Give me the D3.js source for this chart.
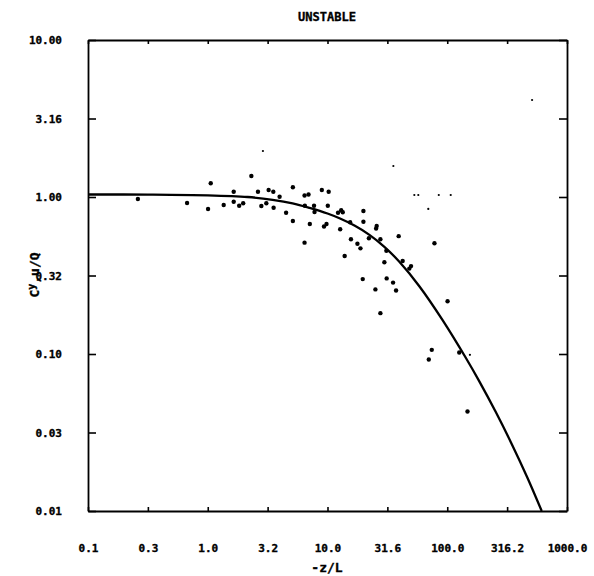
<!DOCTYPE html>
<html>
<head>
<meta charset="utf-8">
<script src="https://cdn.jsdelivr.net/npm/d3@7"></script>
<style>
  html, body { margin: 0; padding: 0; background: #fff; }
  svg text { font-family: "DejaVu Sans Mono", "Liberation Mono", monospace; font-weight: bold; fill: #000; stroke: #000; stroke-width: 0.35px; }
</style>
</head>
<body>
<svg id="chart" width="594" height="576"></svg>
<script>
// Normalized crosswind-integrated concentration vs. stability, unstable cases

const titleText = "UNSTABLE";
const xLabelText = "-z/L";

// Tick positions and their printed labels
const xTicks = [0.1, 0.3162, 1, 3.162, 10, 31.62, 100, 316.2, 1000];
const xTickLabels = ["0.1", "0.3", "1.0", "3.2", "10.0", "31.6", "100.0", "316.2", "1000.0"];
const yTicks = [0.01, 0.03162, 0.1, 0.3162, 1, 3.162, 10];
const yTickLabels = ["0.01", "0.03", "0.10", "0.32", "1.00", "3.16", "10.00"];

// Observations (-z/L, Cy u/Q)
const obsX = [0.261, 0.672, 1.006, 1.059, 1.359, 1.647, 1.647, 1.83, 1.976, 2.313,
  2.626, 2.803, 3.085, 3.224, 3.528, 3.548, 3.981, 4.511, 5.138, 5.138,
  6.433, 6.945, 6.47, 7.12, 7.718, 7.792, 6.433, 8.966, 10.23, 10.06,
  9.35, 9.81, 12.24, 13.01, 13.41, 12.76, 15.46, 19.95, 19.95, 25.75,
  25.46, 15.7, 17.78, 18.84, 13.91, 22.17, 27.65, 39.29, 31.02, 29.85,
  42.42, 49.83, 48.23, 78.2, 19.69, 31.2, 35.28, 25.12, 37.37, 27.65,
  100.6, 74.27, 70.12, 125.9, 147.6];
const obsY = [0.971, 0.916, 0.839, 1.223, 0.889, 1.081, 0.933, 0.879, 0.912, 1.361,
  1.081, 0.876, 0.912, 1.108, 1.081, 0.855, 1.004, 0.794, 1.153, 0.703,
  1.022, 1.037, 0.88, 0.673, 0.879, 0.803, 0.512, 1.108, 1.081, 0.879,
  0.649, 0.673, 0.794, 0.823, 0.799, 0.623, 0.69, 0.814, 0.696, 0.654,
  0.63, 0.538, 0.504, 0.471, 0.421, 0.546, 0.538, 0.563, 0.455, 0.384,
  0.391, 0.363, 0.35, 0.508, 0.3, 0.303, 0.285, 0.258, 0.254, 0.182,
  0.217, 0.1063, 0.0923, 0.1022, 0.043];

// Faint, very small marks
const faintX = [2.889, 35.48, 510.9, 69.45, 53.09, 57.32, 84.96, 106.9, 154.6];
const faintY = [1.963, 1.576, 4.148, 0.839, 1.03, 1.03, 1.03, 1.03, 0.0988];

// Fitted curve
const curveX = [0.1, 0.3162, 1.0, 2.154, 3.481, 5.109, 7.079, 10.0, 12.59, 16.79,
  22.39, 29.85, 39.81, 58.45, 90.87, 143.2, 184.8, 253.7, 350.1, 464.2, 615];
const curveY = [1.037, 1.036, 1.025, 1.0, 0.96, 0.912, 0.853, 0.785, 0.732, 0.658,
  0.5742, 0.4818, 0.3867, 0.2703, 0.1656, 0.0943, 0.0672, 0.04283, 0.02617, 0.01647, 0.01];

const svg = d3.select("#chart");
const plotLeft = 88, plotRight = 567, plotTop = 40, plotBottom = 511;

const x = d3.scaleLog().domain([0.1, 1000]).range([plotLeft, plotRight]);
const y = d3.scaleLog().domain([0.01, 10]).range([plotBottom, plotTop]);

// Frame axes with inward ticks
const axisStyle = g => {
  g.selectAll(".domain").attr("stroke", "#000").attr("stroke-width", 1.8);
  g.selectAll(".tick line").attr("stroke", "#000").attr("stroke-width", 1.6);
  g.selectAll(".tick text").style("font-size", "11px").attr("fill", "#000");
};

svg.append("g")
  .attr("transform", `translate(0,${plotBottom})`)
  .call(d3.axisBottom(x).tickValues(xTicks)
    .tickFormat((d, i) => xTickLabels[i])
    .tickSizeInner(-4).tickSizeOuter(0).tickPadding(33))
  .call(axisStyle);

svg.append("g")
  .attr("transform", `translate(0,${plotTop})`)
  .call(d3.axisTop(x).tickValues(xTicks).tickFormat("")
    .tickSizeInner(-4).tickSizeOuter(0))
  .call(axisStyle);

svg.append("g")
  .attr("transform", `translate(${plotLeft},0)`)
  .call(d3.axisLeft(y).tickValues(yTicks)
    .tickFormat((d, i) => yTickLabels[i])
    .tickSizeInner(-8).tickSizeOuter(0).tickPadding(26))
  .call(axisStyle);

svg.append("g")
  .attr("transform", `translate(${plotRight},0)`)
  .call(d3.axisRight(y).tickValues(yTicks).tickFormat("")
    .tickSizeInner(-8).tickSizeOuter(0))
  .call(axisStyle);

// Fitted curve
const curveData = curveX.map((d, i) => [d, curveY[i]]);
svg.append("path")
  .datum(curveData)
  .attr("fill", "none")
  .attr("stroke", "#000")
  .attr("stroke-width", 2.3)
  .attr("d", d3.line().x(d => x(d[0])).y(d => y(d[1])).curve(d3.curveCatmullRom.alpha(0.5)));

// Observations
svg.append("g").selectAll("circle")
  .data(obsX.map((d, i) => [d, obsY[i]]))
  .join("circle")
  .attr("cx", d => x(d[0]))
  .attr("cy", d => y(d[1]))
  .attr("r", 2.2)
  .attr("fill", "#000");

svg.append("g").selectAll("circle")
  .data(faintX.map((d, i) => [d, faintY[i]]))
  .join("circle")
  .attr("cx", d => x(d[0]))
  .attr("cy", d => y(d[1]))
  .attr("r", 1.1)
  .attr("fill", "#000");

// Title and axis labels
svg.append("text")
  .attr("x", 327).attr("y", 21)
  .attr("text-anchor", "middle")
  .style("font-size", "12px")
  .text(titleText);

svg.append("text")
  .attr("x", 327).attr("y", 572)
  .attr("text-anchor", "middle")
  .style("font-size", "13px")
  .text(xLabelText);

const yl = svg.append("text")
  .attr("transform", "translate(39,275) rotate(-90)")
  .attr("text-anchor", "middle")
  .style("font-size", "13px");
yl.append("tspan").text("C");
yl.append("tspan").attr("dy", -4).style("font-size", "10px").text("y");
yl.append("tspan").attr("dy", 4).text(",u/Q");
</script>
</body>
</html>
